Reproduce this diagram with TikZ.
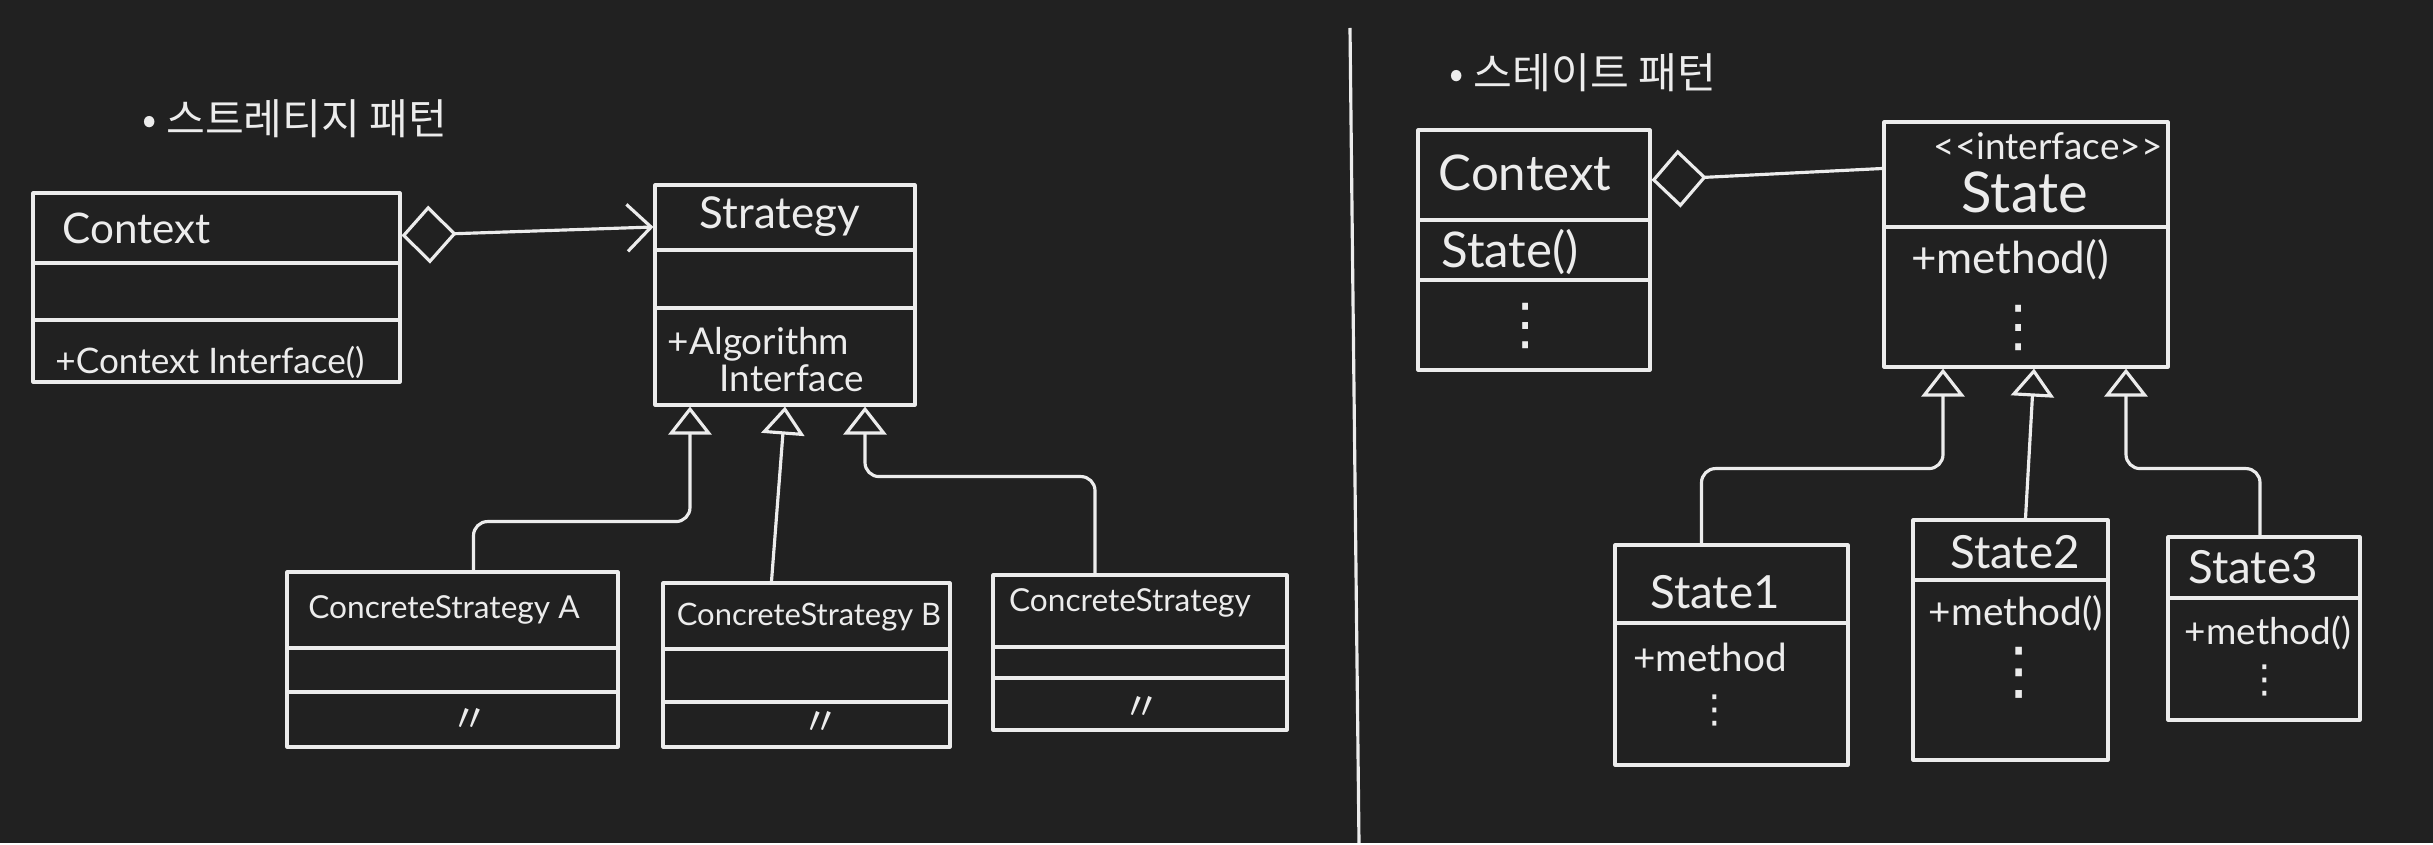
\documentclass[tikz,border=0pt]{standalone}
\usepackage{fontspec}
\setmainfont{Lato}
\newfontfamily\kofont{Noto Sans CJK KR}
\newfontfamily\symfont{DejaVu Sans}
\usetikzlibrary{arrows.meta,fit}
\definecolor{board}{RGB}{33,33,33}
\definecolor{chalk}{RGB}{236,236,236}
\tikzset{
  cls/.style  ={draw=chalk,line width=0.9pt,inner sep=0pt,line join=round},
  sep/.style  ={draw=chalk,line width=0.9pt},
  lbl/.style  ={text=chalk,inner sep=1pt,font=\fontsize{#1}{#1}\selectfont},
  lbl/.default=12,
  more/.style ={text=chalk,inner sep=0pt,font=\symfont\fontsize{#1}{#1}\selectfont},
  more/.default=16,
  ko/.style   ={text=chalk,inner sep=1pt,font=\kofont\fontsize{12}{14}\selectfont},
  dit/.style  ={text=chalk,inner sep=1pt,font=\kofont\fontsize{11}{11}\selectfont},
  agg/.style  ={draw=chalk,line width=0.9pt,{Diamond[open,length=5.5mm,width=5.8mm]}-},
  aggto/.style={draw=chalk,line width=0.9pt,
                {Diamond[open,length=5.5mm,width=5.8mm]}-{Straight Barb[length=2.4mm,width=4.7mm]}},
  inh/.style  ={draw=chalk,line width=0.9pt,rounded corners=4pt,
                -{Triangle[open,length=2.8mm,width=4.3mm]}},
}

\begin{document}
\begin{tikzpicture}[x=0.1mm,y=-0.1mm]
\fill[board] (0,0) rectangle (2433,843);
% strategy pattern
\node[ko] (titleA) at (295,119) {• 스트레티지 패턴};
\node[cls,fit={(33,193) (400,382)}] (ctxA) {};
\node[cls,fit={(655,185) (915,405)}] (strat) {};
\node[cls,fit={(287,572) (618,747)}] (csA) {};
\node[cls,fit={(663,583) (950,747)}] (csB) {};
\node[cls,fit={(993,575) (1287,730)}] (csC) {};
\draw[sep] (ctxA.west |- 0,263) -- (ctxA.east |- 0,263);
\draw[sep] (ctxA.west |- 0,320) -- (ctxA.east |- 0,320);
\draw[sep] (strat.west |- 0,250) -- (strat.east |- 0,250);
\draw[sep] (strat.west |- 0,308) -- (strat.east |- 0,308);
\draw[sep] (csA.west |- 0,648) -- (csA.east |- 0,648);
\draw[sep] (csA.west |- 0,692) -- (csA.east |- 0,692);
\draw[sep] (csB.west |- 0,649) -- (csB.east |- 0,649);
\draw[sep] (csB.west |- 0,702) -- (csB.east |- 0,702);
\draw[sep] (csC.west |- 0,647) -- (csC.east |- 0,647);
\draw[sep] (csC.west |- 0,678) -- (csC.east |- 0,678);
\node[lbl=12] (ctxAname) at (137,228) {Context};
\node[lbl=10] (ctxAop) at (210,362) {+Context Interface()};
\node[lbl=12.5] (stratname) at (780,217) {Strategy};
\node[lbl=10.5,align=left] (stratop) at (766,360) {+Algorithm\\\hspace{1.4em}Interface};
\node[lbl=9] (csAname) at (444,610) {ConcreteStrategy A};
\node[lbl=8.8] (csBname) at (809,617) {ConcreteStrategy B};
\node[lbl=9] (csCname) at (1130,603) {ConcreteStrategy};
\node[dit] (csAop) at (470,720) {〃};
\node[dit] (csBop) at (821,723) {〃};
\node[dit] (csCop) at (1142,708) {〃};
\draw[aggto] ([yshift=5.2mm]ctxA.east) -- ([yshift=6.8mm]strat.west);
\draw[inh] ([xshift=2.1mm]csA.north) |- ([xshift=-9.5mm,yshift=-11.5mm]strat.south) -- ([xshift=-9.5mm]strat.south);
\draw[inh] ([xshift=-3.5mm]csB.north) -- (strat.south);
\draw[inh] ([xshift=-4.5mm]csC.north) |- ([xshift=8mm,yshift=-7mm]strat.south) -- ([xshift=8mm]strat.south);
% divider
\coordinate (cutT) at (1350,28);
\coordinate (cutB) at (1359,843);
\draw[sep] (cutT) -- (cutB);
% state pattern
\node[ko] (titleB) at (1583,73) {• 스테이트 패턴};
\node[cls,fit={(1418,130) (1650,370)}] (ctxB) {};
\node[cls,fit={(1884,122) (2168,367)}] (stateI) {};
\node[cls,fit={(1615,545) (1848,765)}] (st1) {};
\node[cls,fit={(1913,520) (2108,760)}] (st2) {};
\node[cls,fit={(2168,537) (2360,720)}] (st3) {};
\draw[sep] (ctxB.west |- 0,220) -- (ctxB.east |- 0,220);
\draw[sep] (ctxB.west |- 0,280) -- (ctxB.east |- 0,280);
\draw[sep] (stateI.west |- 0,227) -- (stateI.east |- 0,227);
\draw[sep] (st1.west |- 0,623) -- (st1.east |- 0,623);
\draw[sep] (st2.west |- 0,580) -- (st2.east |- 0,580);
\draw[sep] (st3.west |- 0,598) -- (st3.east |- 0,598);
\node[lbl=14] (ctxBname) at (1525,173) {Context};
\node[lbl=14] (ctxBop) at (1510,252) {State()};
\node[more] (ctxBmore) at (1526,326) {⋮};
\node[lbl=10.5] (stateIster) at (2048,146) {<{}<interface>{}>};
\node[lbl=16] (stateIname) at (2025,192) {State};
\node[lbl=12.5] (stateIop) at (2010,260) {+method()};
\node[more] (stateImore) at (2019,328) {⋮};
\node[lbl=13] (st1name) at (1715,592) {State1};
\node[lbl=11] (st1op) at (1710,657) {+method};
\node[more=11] (st1more) at (1715,710) {⋮};
\node[lbl=13] (st2name) at (2015,552) {State2};
\node[lbl=11] (st2op) at (2016,613) {+method()};
\node[more=18] (st2more) at (2019,673) {⋮};
\node[lbl=13] (st3name) at (2253,567) {State3};
\node[lbl=10.5] (st3op) at (2268,633) {+method()};
\node[more=11] (st3more) at (2265,680) {⋮};
\draw[agg] ([yshift=7mm]ctxB.east) -- ([yshift=7.6mm]stateI.west);
\draw[inh] ([xshift=-3mm]st1.north) |- ([xshift=-8.3mm,yshift=-10mm]stateI.south) -- ([xshift=-8.3mm]stateI.south);
\draw[inh] ([xshift=1.5mm]st2.north) -- ([xshift=0.8mm]stateI.south);
\draw[inh] ([xshift=-0.4mm]st3.north) |- ([xshift=10mm,yshift=-10mm]stateI.south) -- ([xshift=10mm]stateI.south);
\end{tikzpicture}
\end{document}
